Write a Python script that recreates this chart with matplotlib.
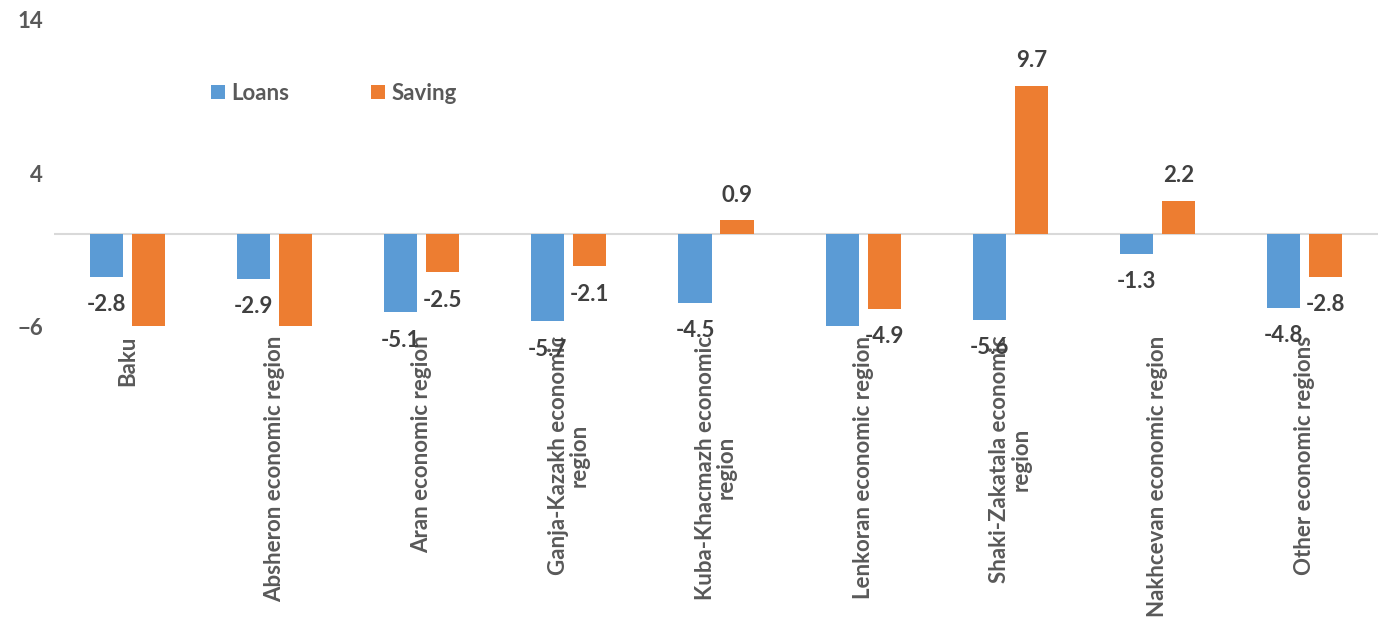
import numpy as np
import matplotlib
matplotlib.use("Agg")
import matplotlib.pyplot as plt

# data (bars below -6 are cut off, values guessed)
regions = ["Baku", "Absheron economic region", "Aran economic region",
           "Ganja-Kazakh economic\nregion", "Kuba-Khacmazh economic\nregion",
           "Lenkoran economic region", "Shaki-Zakatala economic\nregion",
           "Nakhcevan economic region", "Other economic regions"]
loans = [-2.8, -2.9, -5.1, -5.7, -4.5, -7.2, -5.6, -1.3, -4.8]
saving = [-7.5, -7.8, -2.5, -2.1, 0.9, -4.9, 9.7, 2.2, -2.8]

blue = "#5B9BD5"
orange = "#ED7D31"
grey = "#595959"
dark = "#404040"
fsz = 16

plt.rcParams['font.family'] = ['Lato', 'DejaVu Sans']
plt.rcParams['font.weight'] = 'bold'

fig = plt.figure(figsize=(13.81, 6.19), dpi=100)
ax = fig.add_axes([54/1381, 1-326/619, 1324/1381, 306/619])

x = np.arange(len(regions))
w = 0.225
off = 0.143
b1 = ax.bar(x - off, loans, w, color=blue, label="Loans")
b2 = ax.bar(x + off, saving, w, color=orange, label="Saving")

ax.set_ylim(-6, 14)
ax.set_xlim(-0.5, len(regions) - 0.5)
ax.set_yticks([-6, 4, 14])
ax.axhline(0, color="#D9D9D9", lw=1.5, zorder=0)
for s in ax.spines.values():
    s.set_visible(False)

ax.tick_params(axis='y', length=0, labelsize=fsz, labelcolor=grey, pad=8)
ax.set_xticks(x)
ax.set_xticklabels(regions, rotation=90, ha='center', va='top', fontsize=fsz,
                   color=grey, linespacing=1.0)
ax.tick_params(axis='x', length=0, pad=7)

# data labels, hidden when the bar runs off the bottom
for bars, vals in [(b1, loans), (b2, saving)]:
    for r, v in zip(bars, vals):
        if v < -6:
            continue
        cx = r.get_x() + r.get_width() / 2
        dy = 18 if v >= 0 else -20
        ax.annotate(f"{v:.1f}", (cx, v), xytext=(0, dy), textcoords="offset points",
                    ha='center', va='center', fontsize=fsz, color=dark,
                    annotation_clip=False)

fig.legend(handles=[b1, b2], loc='center left', bbox_to_anchor=(211/1381, 1-93.5/619),
           ncol=2, frameon=False, fontsize=fsz, labelcolor=grey, handlelength=0.63,
           handleheight=0.63, handletextpad=0.27, columnspacing=3.7,
           borderpad=0, borderaxespad=0)

fig.savefig("out.png", dpi=100)
